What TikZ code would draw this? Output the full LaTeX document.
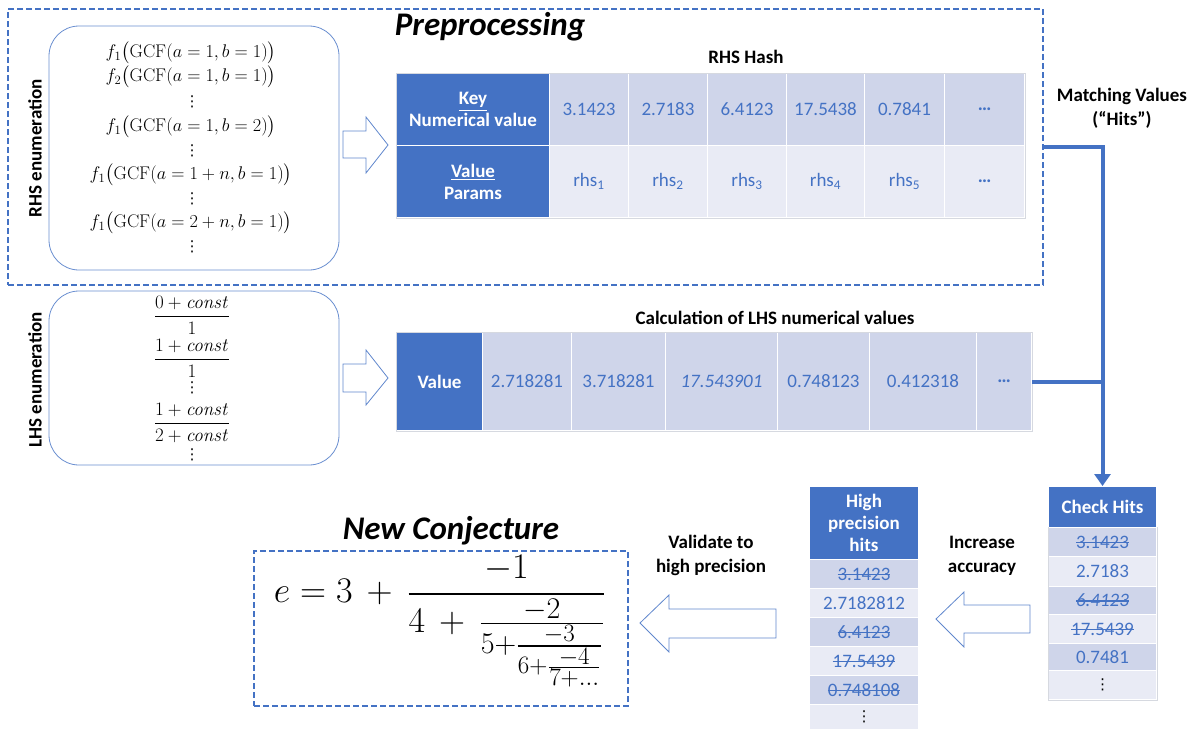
\RequirePackage{fix-cm}
\documentclass[tikz,border=0pt]{standalone}
\usepackage{amsmath}
\usepackage{graphicx}
\usepackage[no-math]{fontspec}
\setmainfont{Carlito}
\newfontfamily\djv{DejaVu Sans}
\usetikzlibrary{arrows.meta}
\definecolor{cblue}{HTML}{4472C4}
\definecolor{cdark}{HTML}{CFD5EA}
\definecolor{clight}{HTML}{E9EBF5}
\definecolor{cframe}{HTML}{D6D9E0}
\newcommand\strk[1]{\sbox0{#1}\makebox[0pt][l]{\color{cblue}\rule[0.28em]{\wd0}{0.06em}}\usebox0}
\newcommand\mscale[1]{\scalebox{1.06}{#1}}
\newcommand\vdts{{\djv\fontsize{15}{15}\selectfont ⋮}}
\tikzset{
  lbl/.style={font=\fontsize{19}{24}\selectfont\bfseries, align=center, inner sep=0},
  ttl/.style={font=\fontsize{33}{38}\selectfont\bfseries\itshape, inner sep=0},
  mth/.style={font=\fontsize{17.28}{21}\selectfont, inner sep=0},
  enumbox/.style={draw=cblue!80, line width=0.8pt, rounded corners=30pt, inner sep=0},
  dbox/.style={draw=cblue, line width=1.6pt, dash pattern=on 6pt off 3pt, inner sep=0},
  cell/.style={draw=white, line width=1pt, inner sep=0, anchor=north west, text=cblue, font=\fontsize{19}{23}\selectfont},
  hcell/.style={cell, fill=cblue, text=white, font=\fontsize{19}{22}\selectfont\bfseries, align=center},
  hollow/.style={draw=cblue!85, line width=0.8pt, fill=white},
  conn/.style={draw=cblue, line width=4pt},
  frame/.style={draw=cframe, line width=0.8pt}
}
\begin{document}
\begin{tikzpicture}[x=1pt,y=-1pt]
\useasboundingbox (0,0) rectangle (1194,729);
% ---------- Preprocessing ----------
\node[dbox, minimum width=1035, minimum height=276] (pre) at (525.5,147) {};
\node[ttl] (pret) at (490,27) {Preprocessing};
\node[lbl, rotate=90] (rl) at (35,148) {RHS enumeration};
\node[enumbox, minimum width=290, minimum height=244] (rbox) at (194,148) {};
\node[mth] (r1) at (191,53) {\mscale{$f_1\bigl(\mathrm{GCF}(a=1,b=1)\bigr)$}};
\node[mth] (r2) at (191,77) {\mscale{$f_2\bigl(\mathrm{GCF}(a=1,b=1)\bigr)$}};
\node[mth] (r3) at (192,102) {\vdts};
\node[mth] (r4) at (191,127) {\mscale{$f_1\bigl(\mathrm{GCF}(a=1,b=2)\bigr)$}};
\node[mth] (r5) at (192,151) {\vdts};
\node[mth] (r6) at (191,175) {\mscale{$f_1\bigl(\mathrm{GCF}(a=1+n,b=1)\bigr)$}};
\node[mth] (r7) at (192,199) {\vdts};
\node[mth] (r8) at (191,223) {\mscale{$f_1\bigl(\mathrm{GCF}(a=2+n,b=1)\bigr)$}};
\node[mth] (r9) at (192,247) {\vdts};
\draw[hollow] (343,131) -- (366,131) -- (366,117) -- (388,145) -- (366,173) -- (366,158) -- (343,158) -- cycle;
% RHS hash table
\node[lbl] (rht) at (746,57) {RHS Hash};
\node[hcell, minimum width=153, minimum height=72] (hk) at (396,73) {\underline{Key}\\Numerical value};
\node[hcell, minimum width=153, minimum height=72] (hv) at (396,145) {\underline{Value}\\Params};
\node[cell, fill=cdark, minimum width=79, minimum height=72] (k1) at (549,73) {3.1423};
\node[cell, fill=cdark, minimum width=79, minimum height=72] (k2) at (628,73) {2.7183};
\node[cell, fill=cdark, minimum width=79, minimum height=72] (k3) at (707,73) {6.4123};
\node[cell, fill=cdark, minimum width=78, minimum height=72] (k4) at (786,73) {17.5438};
\node[cell, fill=cdark, minimum width=80, minimum height=72] (k5) at (864,73) {0.7841};
\node[cell, fill=cdark, minimum width=80, minimum height=72] (k6) at (944,73) {\textbf{\textellipsis}};
\node[cell, fill=clight, minimum width=79, minimum height=72] (v1) at (549,145) {rhs\textsubscript{1}};
\node[cell, fill=clight, minimum width=79, minimum height=72] (v2) at (628,145) {rhs\textsubscript{2}};
\node[cell, fill=clight, minimum width=79, minimum height=72] (v3) at (707,145) {rhs\textsubscript{3}};
\node[cell, fill=clight, minimum width=78, minimum height=72] (v4) at (786,145) {rhs\textsubscript{4}};
\node[cell, fill=clight, minimum width=80, minimum height=72] (v5) at (864,145) {rhs\textsubscript{5}};
\node[cell, fill=clight, minimum width=80, minimum height=72] (v6) at (944,145) {\textbf{\textellipsis}};
\draw[frame] (hk.north west) rectangle (v6.south east);
% ---------- LHS ----------
\node[lbl, rotate=90] (ll) at (35,380) {LHS enumeration};
\node[enumbox, minimum width=290, minimum height=174] (lbox) at (194,378) {};
\node[mth] (f1) at (192,315) {\scalebox{1.1}{$\displaystyle\frac{0+\mathit{const}}{1}$}};
\node[mth] (f2) at (192,358) {\scalebox{1.1}{$\displaystyle\frac{1+\mathit{const}}{1}$}};
\node[mth] (f3) at (192,388) {\vdts};
\node[mth] (f4) at (192,423) {\scalebox{1.1}{$\displaystyle\frac{1+\mathit{const}}{2+\mathit{const}}$}};
\node[mth] (f5) at (192,455) {\vdts};
\draw[hollow] (343,364) -- (366,364) -- (366,350) -- (388,378) -- (366,405) -- (366,392) -- (343,392) -- cycle;
\node[lbl] (lht) at (775,318) {Calculation of LHS numerical values};
\node[hcell, minimum width=86, minimum height=98] (lv) at (396,332) {Value};
\node[cell, fill=cdark, minimum width=89, minimum height=98] (l1) at (482,332) {2.718281};
\node[cell, fill=cdark, minimum width=94, minimum height=98] (l2) at (571,332) {3.718281};
\node[cell, fill=cdark, minimum width=112, minimum height=98] (l3) at (665,332) {\textit{17.543901}};
\node[cell, fill=cdark, minimum width=92, minimum height=98] (l4) at (777,332) {0.748123};
\node[cell, fill=cdark, minimum width=107, minimum height=98] (l5) at (869,332) {0.412318};
\node[cell, fill=cdark, minimum width=55, minimum height=98] (l6) at (976,332) {\textbf{\textellipsis}};
\draw[frame] (lv.north west) rectangle (l6.south east);
% ---------- Check hits ----------
\node[hcell, minimum width=108, minimum height=41] (chk) at (1048,486) {Check Hits};
\node[cell, fill=cdark, minimum width=108, minimum height=29] (c1) at (1048,527) {\strk{3.1423}};
\node[cell, fill=clight, minimum width=108, minimum height=30] (c2) at (1048,556) {2.7183};
\node[cell, fill=cdark, minimum width=108, minimum height=28] (c3) at (1048,586) {\strk{\textit{6.4123}}};
\node[cell, fill=clight, minimum width=108, minimum height=29] (c4) at (1048,614) {\strk{17.5439}};
\node[cell, fill=cdark, minimum width=108, minimum height=27] (c5) at (1048,643) {0.7481};
\node[cell, fill=clight, minimum width=108, minimum height=29, text=black] (c6) at (1048,670) {\vdts};
\draw[frame] (c1.north east) -- (c6.south east) -- (c6.south west) -- (c1.north west);
% connectors
\coordinate (corner) at (chk.north |- pre.east);
\draw[conn] (l6.east) -- (l6.east -| corner);
\draw[conn, -{Triangle[width=16pt,length=12pt]}] (pre.east) -- (corner) -- (chk.north);
\node[lbl] (mv) at (1122,108) {Matching Values\\(“Hits”)};
% ---------- High precision ----------
\node[hcell, minimum width=109, minimum height=73] (hp) at (809,486) {High\\precision\\hits};
\node[cell, fill=cdark, minimum width=109, minimum height=29] (h1) at (809,559) {\strk{3.1423}};
\node[cell, fill=clight, minimum width=109, minimum height=29] (h2) at (809,588) {2.7182812};
\node[cell, fill=cdark, minimum width=109, minimum height=29] (h3) at (809,617) {\strk{6.4123}};
\node[cell, fill=clight, minimum width=109, minimum height=29] (h4) at (809,646) {\strk{17.5439}};
\node[cell, fill=cdark, minimum width=109, minimum height=29] (h5) at (809,675) {\strk{0.748108}};
\node[cell, fill=clight, minimum width=109, minimum height=25, text=black] (h6) at (809,704) {\vdts};
\node[lbl] (ia) at (982,556) {Increase\\accuracy};
\draw[hollow] (1030,605) -- (964,605) -- (964,592) -- (936,619) -- (964,647) -- (964,633) -- (1030,633) -- cycle;
% ---------- New conjecture ----------
\node[lbl] (vh) at (711,555) {Validate to\\high precision};
\draw[hollow] (776,609) -- (669,609) -- (669,595) -- (640,623) -- (669,652) -- (669,638) -- (776,638) -- cycle;
\node[ttl] (nct) at (451,531) {New Conjecture};
\node[dbox, minimum width=374, minimum height=155] (ncb) at (441,628.5) {};
\node[font=\fontsize{24.88}{30}\selectfont, inner sep=0] (eq) at (440,621) {\scalebox{1.45}{$\displaystyle e=3\,+\,\frac{-1}{4\,+\,\frac{-2}{5+\frac{-3}{6+\frac{-4}{7+\ldots}}}}$}};
\end{tikzpicture}
\end{document}
